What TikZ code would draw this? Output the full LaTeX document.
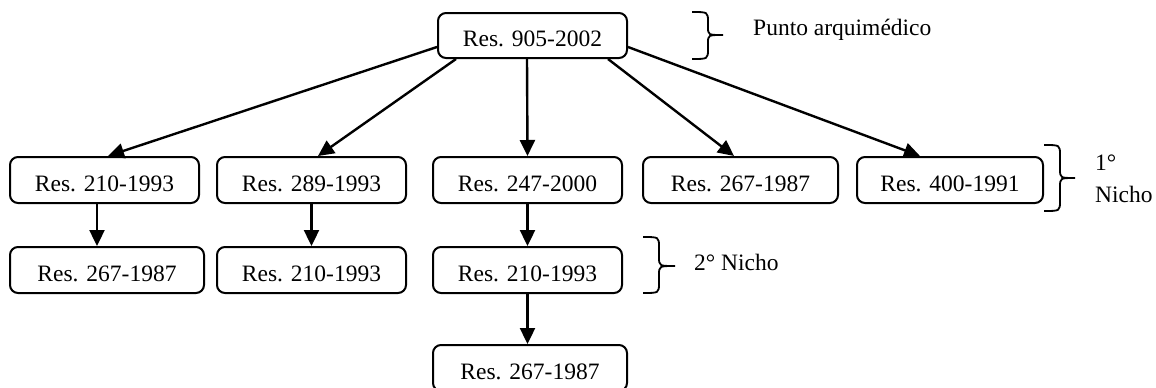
\documentclass[tikz,border=0pt]{standalone}
\usepackage{fontspec}
\setmainfont{Liberation Serif}
\usetikzlibrary{arrows.meta,calc}
\tikzset{
  resbox/.style={draw, line width=2pt, rounded corners=8pt, minimum height=46pt, inner sep=0pt, text height=22.6pt, text depth=0pt, font=\fontsize{23.5}{28}\selectfont},
  conn/.style={line width=2.4pt, -{Triangle[length=16pt,width=15pt]}},
  bracestyle/.style={line width=1.8pt},
  lbl/.style={anchor=base west, inner sep=0pt, font=\fontsize{23.5}{28}\selectfont}
}
\begin{document}
\begin{tikzpicture}[x=1pt,y=-1pt]
\useasboundingbox (0,0) rectangle (1156,388);
\clip (0,0) rectangle (1156,388);
\node[resbox, minimum width=189pt, minimum height=45pt] (top) at (532.5,35.5) {Res. 905-2002};
\node[resbox, minimum width=189pt] (r1a) at (104.5,180) {Res. 210-1993};
\node[resbox, minimum width=189pt] (r1b) at (311.5,180) {Res. 289-1993};
\node[resbox, minimum width=189pt] (r1c) at (527.5,180) {Res. 247-2000};
\node[resbox, minimum width=195pt] (r1d) at (740.5,180) {Res. 267-1987};
\node[resbox, minimum width=186pt] (r1e) at (950,180) {Res. 400-1991};
\node[resbox, minimum width=194pt] (r2a) at (107,270) {Res. 267-1987};
\node[resbox, minimum width=189pt] (r2b) at (311.5,270) {Res. 210-1993};
\node[resbox, minimum width=189pt] (r2c) at (527.5,270) {Res. 210-1993};
\node[resbox, minimum width=194pt] (r3c) at (530,368) {Res. 267-1987};

\draw[conn] ($(top.west)+(0,11.5)$) -- ($(r1a.north)+(3.5,0)$);
\draw[conn] ($(top.south west)+(19,0)$) -- ($(r1b.north)+(6.5,0)$);
\draw[conn] ($(top.south)+(-5.5,0)$) -- (r1c.north);
\draw[conn] ($(top.south east)+(-20,0)$) -- ($(r1d.north)+(-6.5,0)$);
\draw[conn] ($(top.east)+(0,11.5)$) -- ($(r1e.north)+(-30,0)$);
\draw[conn] ($(r1a.south)+(-7.5,0)$) -- ($(r2a.north)+(-10,0)$);
\draw[conn] (r1b.south) -- (r2b.north);
\draw[conn] (r1c.south) -- (r2c.north);
\draw[conn] (r2c.south) -- ($(r3c.north)+(-2.5,0)$);

\draw[bracestyle] (692,12) .. controls (708,12) .. (708,22) -- (708,27) .. controls (708,35) .. (723,35) .. controls (708,35) .. (708,43) -- (708,49) .. controls (708,59) .. (692,59);
\draw[bracestyle] (643,237) .. controls (659,237) .. (659,247) -- (659,257) .. controls (659,266) .. (675,266) .. controls (659,266) .. (659,275) -- (659,283) .. controls (659,293) .. (643,293);
\draw[bracestyle] (1044,145) .. controls (1060,145) .. (1060,155) -- (1060,169) .. controls (1060,178) .. (1075,178) .. controls (1060,178) .. (1060,187) -- (1060,201) .. controls (1060,211) .. (1044,211);

\node[lbl] (t1) at (753,35) {Punto arquimédico};
\node[lbl] (t2) at (694,270) {2° Nicho};
\node[lbl] (t3) at (1095,170) {1°};
\node[lbl] (t4) at (1095,202) {Nicho};
\end{tikzpicture}
\end{document}
